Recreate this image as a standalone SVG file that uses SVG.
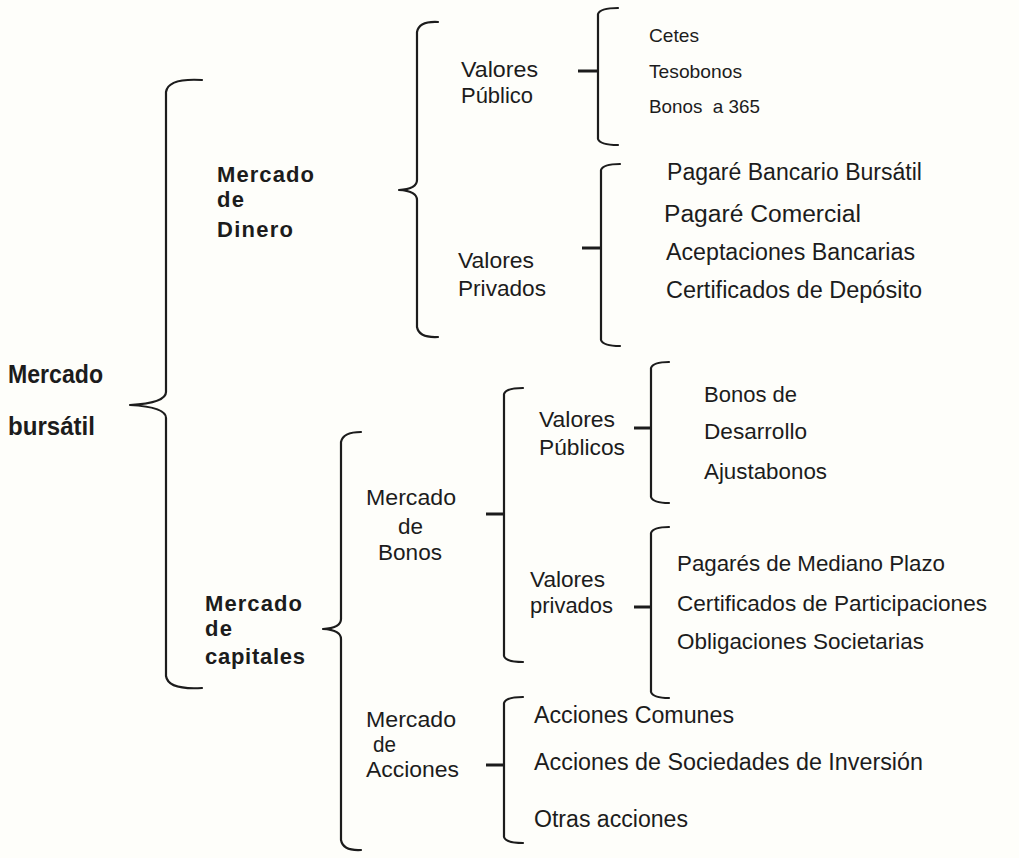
<svg xmlns="http://www.w3.org/2000/svg" width="1019" height="858" viewBox="0 0 1019 858">
<style>
  .t{font-family:"Liberation Sans",Arial,sans-serif;fill:#1c1c1c;font-size:22px}
  .b{font-weight:bold;font-size:22px}
  .s19{font-size:19px}
  .s23{font-size:23px}
  .brace{fill:none;stroke:#1c1c1c;stroke-width:2.2;stroke-linecap:round;stroke-linejoin:round}
  .tip{fill:none;stroke:#1c1c1c;stroke-width:3;stroke-linecap:butt}
</style>
<rect x="0" y="0" width="1019" height="858" fill="#fefefa"/>
<g id="connectors">
  <path class="brace" d="M202,80 Q168,78 166,92 L166,392 Q166,403 130,405 Q166,407 166,418 L166,676 Q168,690 202,688"/>
  <path class="brace" d="M438,22 Q419,21 417,32 L417,180 Q417,189 399,190 Q417,191 417,200 L417,327 Q419,338 438,337"/>
  <path class="brace" d="M361,432 Q343,432 341,442 L341,619 Q341,628 323,629 Q341,630 341,639 L341,840 Q343,851 361,850"/>
  <path class="brace" d="M618,8 Q600,8 598,14 L598,139 Q600,145 618,145"/>
  <path class="tip" d="M578,71 H598"/>
  <path class="brace" d="M620,164 Q603,164 601,170 L601,340 Q603,346 620,346"/>
  <path class="tip" d="M582,248 H601"/>
  <path class="brace" d="M523,388 Q506,388 504,394 L504,656 Q506,662 523,662"/>
  <path class="tip" d="M486,514 H504"/>
  <path class="brace" d="M669,362 Q653,362 651,368 L651,497 Q653,503 669,503"/>
  <path class="tip" d="M634,428 H651"/>
  <path class="brace" d="M669,527 Q653,527 651,533 L651,692 Q653,698 669,698"/>
  <path class="tip" d="M634,607 H651"/>
  <path class="brace" d="M523,697 Q506,697 504,703 L504,837 Q506,843 523,843"/>
  <path class="tip" d="M486,765 H504"/>
</g>
<g id="mercado-bursatil">
  <text class="t b" x="8" y="383" style="font-size:25px" textLength="95" lengthAdjust="spacingAndGlyphs">Mercado</text>
  <text class="t b" x="8" y="435" style="font-size:25px" textLength="87" lengthAdjust="spacingAndGlyphs">bursátil</text>
</g>
<g id="mercado-dinero">
  <text class="t b" x="217" y="182" textLength="97">Mercado</text>
  <text class="t b" x="217" y="207" textLength="27">de</text>
  <text class="t b" x="217" y="237" textLength="76">Dinero</text>
</g>
<g id="valores-publico">
  <text class="t" x="461" y="77" textLength="77" lengthAdjust="spacingAndGlyphs">Valores</text>
  <text class="t" x="461" y="103" textLength="72" lengthAdjust="spacingAndGlyphs">Público</text>
</g>
<g id="valores-privados-dinero">
  <text class="t" x="458" y="268" textLength="76" lengthAdjust="spacingAndGlyphs">Valores</text>
  <text class="t" x="458" y="296" textLength="88" lengthAdjust="spacingAndGlyphs">Privados</text>
</g>
<g id="items-publico-dinero">
  <text class="t s19" x="649" y="42" textLength="50" lengthAdjust="spacingAndGlyphs">Cetes</text>
  <text class="t s19" x="649" y="78" textLength="93" lengthAdjust="spacingAndGlyphs">Tesobonos</text>
  <text class="t s19" x="649" y="113" textLength="111" lengthAdjust="spacingAndGlyphs" xml:space="preserve">Bonos  a 365</text>
</g>
<g id="items-privados-dinero">
  <text class="t s23" x="667" y="180" textLength="255" lengthAdjust="spacingAndGlyphs">Pagaré Bancario Bursátil</text>
  <text class="t s23" x="664" y="222" textLength="197" lengthAdjust="spacingAndGlyphs">Pagaré Comercial</text>
  <text class="t s23" x="666" y="260" textLength="249" lengthAdjust="spacingAndGlyphs">Aceptaciones Bancarias</text>
  <text class="t s23" x="666" y="298" textLength="256" lengthAdjust="spacingAndGlyphs">Certificados de Depósito</text>
</g>
<g id="mercado-capitales">
  <text class="t b" x="205" y="611" textLength="97">Mercado</text>
  <text class="t b" x="205" y="636" textLength="27">de</text>
  <text class="t b" x="205" y="664" textLength="100">capitales</text>
</g>
<g id="mercado-bonos">
  <text class="t" x="366" y="505" textLength="90" lengthAdjust="spacingAndGlyphs">Mercado</text>
  <text class="t" x="398" y="534" textLength="25" lengthAdjust="spacingAndGlyphs">de</text>
  <text class="t" x="378" y="560" textLength="64" lengthAdjust="spacingAndGlyphs">Bonos</text>
</g>
<g id="valores-publicos-capitales">
  <text class="t" x="539" y="427" textLength="76" lengthAdjust="spacingAndGlyphs">Valores</text>
  <text class="t" x="539" y="455" textLength="86" lengthAdjust="spacingAndGlyphs">Públicos</text>
</g>
<g id="items-publicos-capitales">
  <text class="t" x="704" y="402" textLength="93" lengthAdjust="spacingAndGlyphs">Bonos de</text>
  <text class="t" x="704" y="439" textLength="103" lengthAdjust="spacingAndGlyphs">Desarrollo</text>
  <text class="t" x="704" y="479" textLength="123" lengthAdjust="spacingAndGlyphs">Ajustabonos</text>
</g>
<g id="valores-privados-capitales">
  <text class="t" x="530" y="587" textLength="75" lengthAdjust="spacingAndGlyphs">Valores</text>
  <text class="t" x="530" y="613" textLength="83" lengthAdjust="spacingAndGlyphs">privados</text>
</g>
<g id="items-privados-capitales">
  <text class="t" x="677" y="571" textLength="268" lengthAdjust="spacingAndGlyphs">Pagarés de Mediano Plazo</text>
  <text class="t" x="677" y="611" textLength="310" lengthAdjust="spacingAndGlyphs">Certificados de Participaciones</text>
  <text class="t" x="677" y="649" textLength="247" lengthAdjust="spacingAndGlyphs">Obligaciones Societarias</text>
</g>
<g id="mercado-acciones">
  <text class="t" x="366" y="727" textLength="90" lengthAdjust="spacingAndGlyphs">Mercado</text>
  <text class="t" x="373" y="752" textLength="23" lengthAdjust="spacingAndGlyphs">de</text>
  <text class="t" x="366" y="777" textLength="93" lengthAdjust="spacingAndGlyphs">Acciones</text>
</g>
<g id="items-acciones">
  <text class="t s23" x="534" y="723" textLength="200" lengthAdjust="spacingAndGlyphs">Acciones Comunes</text>
  <text class="t s23" x="534" y="770" textLength="389" lengthAdjust="spacingAndGlyphs">Acciones de Sociedades de Inversión</text>
  <text class="t s23" x="534" y="827" textLength="154" lengthAdjust="spacingAndGlyphs">Otras acciones</text>
</g>
</svg>
